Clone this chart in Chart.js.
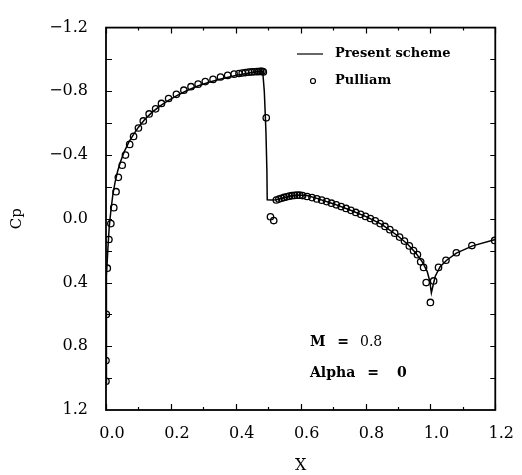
<!DOCTYPE html>
<html>
<head>
<meta charset="utf-8">
<script src="https://cdn.jsdelivr.net/npm/chart.js@4.4.1/dist/chart.umd.min.js"></script>
<style>
  html, body { margin: 0; padding: 0; background: #fff; }
</style>
</head>
<body>
<canvas id="cpChart" width="522" height="475"></canvas>
<script>
  // Surface pressure coefficient, M = 0.8, alpha = 0
  const presentX  = [0.000, 0.000, 0.001, 0.003, 0.006, 0.010, 0.015, 0.021, 0.028, 0.036,
                     0.045, 0.056, 0.070, 0.085, 0.100, 0.120, 0.140, 0.165, 0.190, 0.220,
                     0.250, 0.285, 0.320, 0.360, 0.400, 0.440, 0.470, 0.483, 0.488, 0.493,
                     0.496, 0.497, 0.510, 0.525, 0.545, 0.570, 0.595, 0.620, 0.650, 0.700,
                     0.750, 0.800, 0.850, 0.900, 0.930, 0.955, 0.975, 0.990, 0.998, 1.003,
                     1.008, 1.015, 1.030, 1.050, 1.080, 1.130, 1.200];
  const presentCp = [1.03, 0.88, 0.62, 0.36, 0.18, 0.05, -0.05, -0.15, -0.23, -0.30,
                     -0.36, -0.42, -0.48, -0.53, -0.575, -0.625, -0.665, -0.705, -0.74, -0.775,
                     -0.805, -0.835, -0.858, -0.88, -0.9, -0.915, -0.924, -0.926, -0.80, -0.55,
                     -0.30, -0.12, -0.118, -0.12, -0.13, -0.143, -0.149, -0.146, -0.128, -0.095,
                     -0.057, -0.015, 0.035, 0.108, 0.16, 0.215, 0.27, 0.33, 0.39, 0.465,
                     0.42, 0.36, 0.30, 0.26, 0.215, 0.17, 0.13];

  const pulliamX  = [0.000, 0.000, 0.001, 0.004, 0.009, 0.015, 0.024, 0.031, 0.038, 0.050,
                     0.060, 0.073, 0.085, 0.100, 0.115, 0.133, 0.153, 0.171, 0.193, 0.217,
                     0.240, 0.262, 0.284, 0.306, 0.330, 0.353, 0.375, 0.395, 0.410, 0.420,
                     0.430, 0.440, 0.450, 0.458, 0.465, 0.471, 0.476, 0.481, 0.485, 0.494,
                     0.507, 0.517, 0.525, 0.533, 0.541, 0.549, 0.557, 0.565, 0.573, 0.581,
                     0.589, 0.597, 0.606, 0.620, 0.635, 0.650, 0.665, 0.680, 0.695, 0.710,
                     0.725, 0.740, 0.755, 0.770, 0.785, 0.800, 0.815, 0.830, 0.845, 0.860,
                     0.875, 0.890, 0.905, 0.920, 0.935, 0.948, 0.960, 0.970, 0.979, 0.987,
                     1.000, 1.010, 1.025, 1.048, 1.080, 1.128, 1.198];
  const pulliamCp = [1.02, 0.89, 0.60, 0.31, 0.13, 0.03, -0.07, -0.17, -0.26, -0.336,
                     -0.40, -0.467, -0.517, -0.570, -0.614, -0.658, -0.690, -0.724, -0.755, -0.781,
                     -0.807, -0.829, -0.845, -0.861, -0.875, -0.890, -0.900, -0.908, -0.912, -0.915,
                     -0.918, -0.920, -0.922, -0.923, -0.924, -0.924, -0.925, -0.925, -0.922, -0.634,
                     -0.013, 0.011, -0.118, -0.124, -0.129, -0.134, -0.138, -0.142, -0.145, -0.147,
                     -0.148, -0.148, -0.146, -0.140, -0.133, -0.125, -0.117, -0.108, -0.098, -0.088,
                     -0.077, -0.065, -0.053, -0.040, -0.028, -0.015, -0.002, 0.013, 0.030, 0.048,
                     0.068, 0.090, 0.115, 0.140, 0.170, 0.200, 0.225, 0.270, 0.305, 0.400,
                     0.525, 0.390, 0.305, 0.260, 0.213, 0.168, 0.136];

  const xTickValues = [0, 0.2, 0.4, 0.6, 0.8, 1.0, 1.2];
  const xTickLabels = ["0.0", "0.2", "0.4", "0.6", "0.8", "1.0", "1.2"];
  const yTickValues = [-1.2, -0.8, -0.4, 0, 0.4, 0.8, 1.2];
  const yTickLabels = ["\u22121.2", "\u22120.8", "\u22120.4", "0.0", "0.4", "0.8", "1.2"];
  // tick marks along the frame (labels only on some of them)
  const xTickMarks = [0, 0.1, 0.2, 0.3, 0.4, 0.5, 0.6, 0.7, 0.8, 0.9, 1.0, 1.1, 1.2];
  const yTickMarks = [-1.0, -0.8, -0.6, -0.4, -0.2, 0, 0.2, 0.4, 0.6, 0.8, 1.0];

  const SERIF = "'DejaVu Serif', serif";
  const INK = "#000";

  const pairs = (xs, ys) => xs.map((x, i) => ({ x: x, y: ys[i] }));

  // frame, inward ticks, legend and flow-condition text
  const framePlugin = {
    id: "frame",
    afterDatasetsDraw(chart) {
      const { ctx, chartArea: a, scales } = chart;
      const sx = scales.x, sy = scales.y;
      ctx.save();
      ctx.strokeStyle = INK;
      ctx.lineWidth = 1.8;
      ctx.strokeRect(a.left, a.top, a.right - a.left, a.bottom - a.top);

      ctx.lineWidth = 1.2;
      ctx.beginPath();
      xTickMarks.forEach((v, i) => {
        const px = Math.round(sx.getPixelForValue(v)) + 0.5;
        const len = i % 2 ? 3 : 6;
        ctx.moveTo(px, a.bottom); ctx.lineTo(px, a.bottom - len);
        ctx.moveTo(px, a.top);    ctx.lineTo(px, a.top + len);
      });
      yTickMarks.forEach(v => {
        const py = Math.round(sy.getPixelForValue(v)) + 0.5;
        ctx.moveTo(a.left, py);  ctx.lineTo(a.left + 6, py);
        ctx.moveTo(a.right, py); ctx.lineTo(a.right - 5, py);
      });
      ctx.stroke();

      // legend
      ctx.fillStyle = INK;
      ctx.textBaseline = "middle";
      ctx.textAlign = "left";
      ctx.lineWidth = 1.2;
      ctx.beginPath();
      ctx.moveTo(297, 54); ctx.lineTo(323, 54);
      ctx.stroke();
      ctx.beginPath();
      ctx.arc(313, 81, 2.5, 0, Math.PI * 2);
      ctx.stroke();
      ctx.font = "bold 13px " + SERIF;
      ctx.fillText("Present scheme", 335, 54);
      ctx.fillText("Pulliam", 335, 81);

      // flow conditions
      ctx.font = "bold 14px " + SERIF;
      ctx.fillText("M", 310, 342);
      ctx.fillText("Alpha", 310, 373);
      ctx.textAlign = "center";
      ctx.fillText("=", 343, 342);
      ctx.fillText("=", 373, 373);
      ctx.textAlign = "left";
      ctx.fillText("0", 397, 373);
      ctx.font = "14px " + SERIF;
      ctx.fillText("0.8", 360, 342);
      ctx.restore();
    }
  };

  new Chart(document.getElementById("cpChart"), {
    type: "scatter",
    data: {
      datasets: [
        {
          label: "Present scheme",
          data: pairs(presentX, presentCp),
          showLine: true,
          borderColor: INK,
          borderWidth: 1.5,
          pointRadius: 0,
          tension: 0,
          order: 2
        },
        {
          label: "Pulliam",
          data: pairs(pulliamX, pulliamCp),
          showLine: false,
          pointRadius: 3.2,
          pointBorderWidth: 1.3,
          pointBorderColor: INK,
          pointBackgroundColor: "rgba(0,0,0,0)",
          order: 1
        }
      ]
    },
    options: {
      responsive: false,
      animation: false,
      devicePixelRatio: 1,
      layout: { padding: { top: 13, right: 19, left: 0, bottom: 0 } },
      plugins: { legend: { display: false }, tooltip: { enabled: false } },
      scales: {
        x: {
          type: "linear",
          min: 0,
          max: 1.2,
          afterBuildTicks: s => { s.ticks = xTickValues.map(v => ({ value: v })); },
          afterFit: s => { s.height = 65; },
          ticks: {
            callback: (v, i) => xTickLabels[i],
            font: { family: SERIF, size: 16 },
            color: INK,
            padding: 14,
            labelOffset: 6,
            maxRotation: 0,
            autoSkip: false
          },
          grid: { display: false, drawTicks: false },
          border: { display: false },
          title: {
            display: true,
            text: "X",
            color: INK,
            font: { family: SERIF, size: 16 },
            padding: { top: 0, bottom: 0 }
          }
        },
        y: {
          type: "linear",
          reverse: true,
          min: -1.2,
          max: 1.2,
          afterBuildTicks: s => { s.ticks = yTickValues.map(v => ({ value: v })); },
          afterFit: s => { s.width = 106; },
          ticks: {
            callback: (v, i) => yTickLabels[i],
            font: { family: SERIF, size: 16 },
            color: INK,
            padding: 18,
            autoSkip: false
          },
          grid: { display: false, drawTicks: false },
          border: { display: false },
          title: {
            display: true,
            text: "Cp",
            color: INK,
            font: { family: SERIF, size: 15 },
            padding: { top: 8, bottom: 0 }
          }
        }
      }
    },
    plugins: [framePlugin]
  });
</script>
</body>
</html>
